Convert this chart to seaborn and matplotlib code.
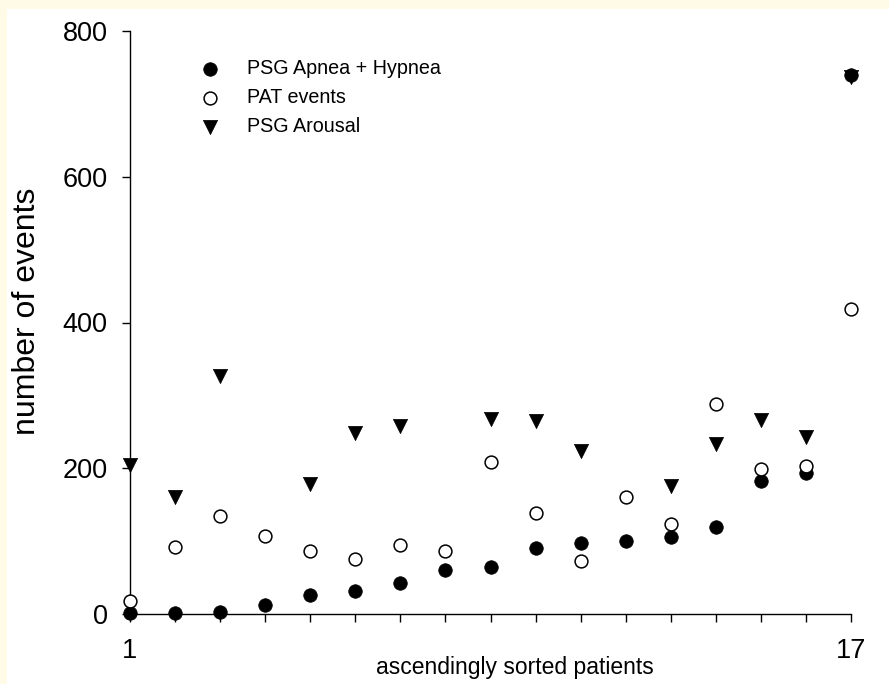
import numpy as np
import pandas as pd
import seaborn as sns
import matplotlib.pyplot as plt
from matplotlib.patches import Rectangle

# values (patients sorted ascending)
patients = list(range(1, 18))
apnea_hypnea = [1, 2, 3, 13, 26, 32, 43, 60, 65, 91, 98, 100, 106, 119, 182, 193, 740]
pat_events = [18, 92, 134, 107, 86, 75, 94, 87, 208, 139, 73, 160, 123, 288, 199, 203, 418]
arousal = [205, 160, 326, np.nan, 179, 248, 258, np.nan, 268, 265, 223, np.nan, 176, 233, 266, 243, 737]

x_tick_labels = ['1'] + [''] * 15 + ['17']
y_ticks = [0, 200, 400, 600, 800]

df = pd.DataFrame({
    'patient': patients,
    'apnea_hypnea': apnea_hypnea,
    'pat_events': pat_events,
    'arousal': arousal,
})

sns.set_style('ticks', {'axes.edgecolor': 'black', 'xtick.color': 'black', 'ytick.color': 'black',
                        'axes.labelcolor': 'black', 'text.color': 'black'})
plt.rcParams['font.family'] = ['Liberation Sans', 'DejaVu Sans']

fig = plt.figure(figsize=(8.89, 6.84), dpi=100)
fig.patch.set_facecolor('#fffbe6')
# white panel inside the cream border
fig.patches.append(Rectangle((7 / 889, 0), 1, 1 - 9 / 684, transform=fig.transFigure,
                             facecolor='white', edgecolor='none', zorder=-10))

ax = fig.add_axes([130 / 889, 70 / 684, 721 / 889, 583 / 684])
ax.set_facecolor('none')

sns.scatterplot(data=df, x='patient', y='arousal', ax=ax, marker='v', s=105,
                color='black', edgecolor='black', linewidth=0.5,
                label='PSG Arousal', clip_on=False, zorder=3)
sns.scatterplot(data=df, x='patient', y='apnea_hypnea', ax=ax, marker='o', s=95,
                color='black', edgecolor='black', linewidth=0.5,
                label='PSG Apnea + Hypnea', clip_on=False, zorder=4)
sns.scatterplot(data=df, x='patient', y='pat_events', ax=ax, marker='o', s=85,
                facecolor='white', edgecolor='black', linewidth=1.1,
                label='PAT events', clip_on=False, zorder=5)

ax.set_xlim(1, 17)
ax.set_ylim(0, 800)
ax.set_xticks(patients)
ax.set_xticklabels(x_tick_labels)
ax.set_yticks(y_ticks)
ax.tick_params(axis='both', direction='out', length=5.5, width=1.0, labelsize=19.5,
               color='black', labelcolor='black')
ax.tick_params(axis='y', pad=10.5)
ax.tick_params(axis='x', pad=12)
sns.despine(ax=ax)
for sp in ['left', 'bottom']:
    ax.spines[sp].set_linewidth(1.0)
    ax.spines[sp].set_color('black')

ax.set_xlabel('ascendingly sorted patients', fontsize=16.5, color='black')
ax.set_ylabel('number of events', fontsize=23, color='black')
ax.xaxis.set_label_coords(0.534, -0.072)
ax.yaxis.set_label_coords(-0.122, 0.52)

handles, labels = ax.get_legend_handles_labels()
order = [1, 2, 0]
leg = ax.legend([handles[i] for i in order], [labels[i] for i in order],
                loc='upper left', bbox_to_anchor=(0.097, 0.952), frameon=False,
                fontsize=14.2, borderpad=0, handlelength=1.0, handletextpad=1.37,
                labelspacing=0.5, borderaxespad=0)
for t in leg.get_texts():
    t.set_color('black')

fig.savefig('out.png', dpi=100, facecolor=fig.get_facecolor())
